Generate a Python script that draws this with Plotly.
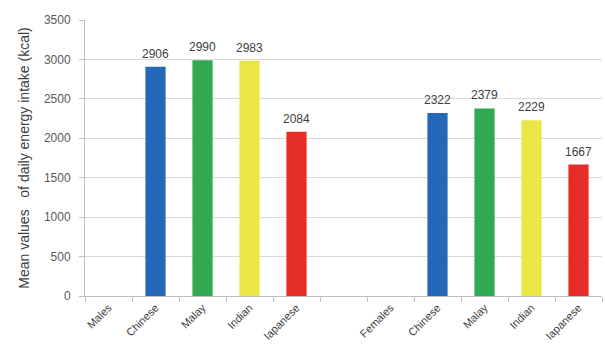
import plotly.graph_objects as go

# Data
categories = ["Males", "Chinese", "Malay", "Indian", "Iapanese", " ",
              "Females", "Chinese ", "Malay ", "Indian ", "Iapanese "]
tick_labels = ["Males", "Chinese", "Malay", "Indian", "Iapanese", "",
               "Females", "Chinese", "Malay", "Indian", "Iapanese"]
energy_kcal = [None, 2906, 2990, 2983, 2084, None,
               None, 2322, 2379, 2229, 1667]

ethnic_colors = {"Chinese": "#2369b8", "Malay": "#33a853",
                 "Indian": "#ebe646", "Iapanese": "#e52d27"}
bar_colors = [ethnic_colors.get(c.strip(), "#ffffff") for c in categories]

fig = go.Figure(go.Bar(
    x=categories, y=energy_kcal,
    marker=dict(color=bar_colors, line=dict(width=0)),
    width=0.43,
))

for cat, val in zip(categories, energy_kcal):
    if val is None:
        continue
    fig.add_annotation(
        x=cat, y=val, text=str(val), showarrow=False,
        yanchor="bottom", yshift=4,
        font=dict(size=12, color="#404040", family="Liberation Sans"),
    )

fig.update_layout(
    width=605, height=345,
    margin=dict(l=85, r=3, t=20, b=49),
    paper_bgcolor="white", plot_bgcolor="white",
    showlegend=False,
    font=dict(family="Liberation Sans", color="#595959"),
)
fig.update_xaxes(
    type="category",
    tickmode="array", tickvals=categories, ticktext=tick_labels,
    tickson="boundaries", ticks="outside", ticklen=5, tickcolor="#bfbfbf",
    tickangle=-45, tickfont=dict(size=11, color="#404040"),
    showline=True, linecolor="#bfbfbf", linewidth=1,
    showgrid=False, zeroline=False,
)
fig.update_yaxes(
    range=[0, 3500], tickmode="linear", tick0=0, dtick=500,
    ticks="outside", ticklen=5, tickcolor="#bfbfbf",
    ticklabelstandoff=6,
    tickfont=dict(size=12, color="#595959"),
    showline=True, linecolor="#bfbfbf", linewidth=1,
    showgrid=True, gridcolor="#d9d9d9", gridwidth=1,
    zeroline=False,
    title=dict(text="Mean values   of daily energy intake (kcal)",
               font=dict(size=14, color="#404040"), standoff=10),
)

fig.write_html("out.html")
